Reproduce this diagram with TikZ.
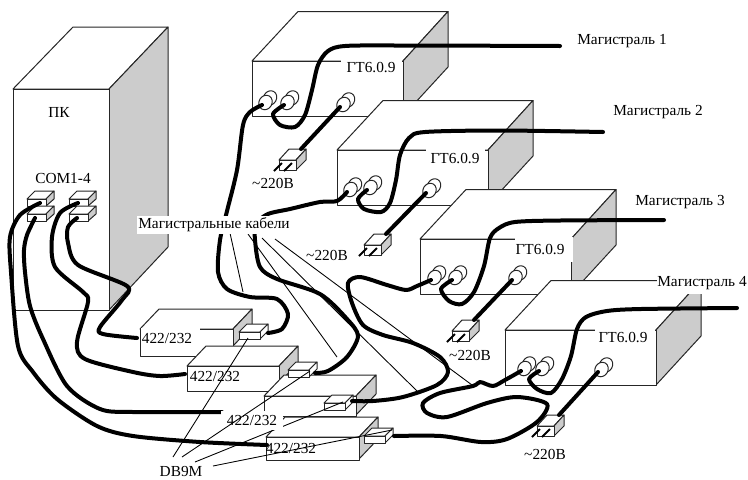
\documentclass[tikz,border=0pt]{standalone}
\usepackage{fontspec}
\setmainfont{Liberation Serif}
\definecolor{sideGrey}{RGB}{204, 204, 204}
\usetikzlibrary{calc}

\tikzset{
    wall/.style={draw=black!85, line width=0.75pt, line join=round},
    cable/.style={draw=black, line width=3pt, line cap=round, line join=round},
    leader/.style={draw=black, line width=0.65pt},
    lab/.style={font=\fontsize{11.5}{13}\selectfont, inner sep=0pt},
    labw/.style={lab, fill=white},
    jack/.pic={
        \draw[wall, fill=white, shift={(8,-7)}, rotate=-30] (0,0) ellipse [x radius=6.5, y radius=7.5];
        \draw[wall, fill=white, shift={(3.5,-2.5)}, rotate=-30] (0,0) ellipse [x radius=6.5, y radius=7.5];
    },
    plug/.pic={
        \draw[wall, fill=white] (0,0) -- (10,-11) -- (27,-11) -- (17,0) -- cycle;
        \draw[wall, fill=sideGrey] (17,0) -- (27,-11) -- (27,0) -- (17,10) -- cycle;
        \draw[wall, fill=white] (0,0) rectangle (17,10);
        \draw[line width=1.5pt] (3,3) -- (-5,11);
        \draw[line width=1.5pt] (13,3) -- (5,11);
        \coordinate (-top) at (22,-11);
    },
    port/.pic={
        \draw[wall, fill=white] (0,0) -- (8,-8) -- (29,-8) -- (21,0) -- cycle;
        \draw[wall, fill=white] (21,0) -- (29,-8) -- (29,-1) -- (21,7) -- cycle;
        \draw[wall, fill=white] (0,0) rectangle (21,7);
    },
    comport/.pic={
        \draw[wall, fill=white] (0,0) -- (8,-8) -- (27,-8) -- (19,0) -- cycle;
        \draw[wall, fill=sideGrey] (19,0) -- (27,-8) -- (27,0) -- (19,7) -- cycle;
        \draw[wall, fill=white] (0,0) rectangle (19,7);
    }
}

\begin{document}
\begin{tikzpicture}[x=0.75pt, y=-0.75pt]
    \useasboundingbox (0,0) rectangle (748,479);

    % PC case
    \draw[wall, fill=white] (13,89) -- (73,27) -- (168,27) -- (109,89) -- cycle;
    \draw[wall, fill=sideGrey] (109,89) -- (168,27) -- (168,247) -- (109,310) -- cycle;
    \draw[wall, fill=white] (13,89) rectangle (109,310);
    \node[lab] (pk) at (59,112) {ПК};
    \node[lab] (com) at (63,178) {COM1-4};
    \foreach \n/\px/\py in {a/27/199, b/27/214, c/69/199, d/69/214} {
        \pic (com\n) at (\px,\py) {comport};
    }

    % GT6.0.9 boxes, the text hides a part of the front edge
    \foreach \n/\bx/\by/\cxa/\cya/\cxb/\cyb/\lx/\ly in {1/252/61/341/59/402/82/371/68,
                                                        2/337/150/426/148/485/171/455/159,
                                                        3/420/239/515/237/573/262/540/250,
                                                        4/505/330/595/328/655/350/623/338} {
        \draw[wall, fill=white] (\bx,\by) -- ({\bx+46},{\by-49.5}) -- ({\bx+196},{\by-49.5}) -- ({\bx+151},\by) -- cycle;
        \draw[wall, fill=sideGrey] ({\bx+151},\by) -- ({\bx+196},{\by-49.5}) -- ({\bx+196},{\by+6}) -- ({\bx+151},{\by+55}) -- cycle;
        \draw[wall, fill=white] (\bx,\by) rectangle ({\bx+151},{\by+55});
        \fill[white] (\cxa,\cya) rectangle (\cxb,\cyb);
        \node[lab] (gt\n) at (\lx,\ly) {ГТ6.0.9};
    }
    \node[labw, minimum width=68pt, minimum height=16.5pt] (mag4) at (702,283) {Магистраль 4};
    \node[lab] (mag1) at (622,41) {Магистраль 1};
    \node[lab] (mag2) at (658,112) {Магистраль 2};
    \node[lab] (mag3) at (680,202) {Магистраль 3};

    % Converters
    \foreach \n/\bx/\by/\bw/\bh/\sw/\sh in {1/140/329/93/27/19/17,
                                            2/187/366/92/25/19/17,
                                            3/264/396/92/20/20/19,
                                            4/266/437/93/23/19/22} {
        \draw[wall, fill=white] (\bx,\by) -- ({\bx+\sw},{\by-\sw-1}) -- ({\bx+\bw+\sw},{\by-\sw-1}) -- ({\bx+\bw},\by) -- cycle;
        \draw[wall, fill=sideGrey] ({\bx+\bw},\by) -- ({\bx+\bw+\sw},{\by-\sw-1}) -- ({\bx+\bw+\sw},{\by+\sh-\sw-1}) -- ({\bx+\bw},{\by+\sh}) -- cycle;
        \draw[wall, fill=white] (\bx,\by) rectangle ({\bx+\bw},{\by+\bh});
    }
    \fill[white] (141,327.5) rectangle (200,347);
    \node[lab] (conva) at (167,338) {422/232};
    \node[lab] (convb) at (215,376) {422/232};
    \node[lab] (convd) at (291,448) {422/232};

    % Sockets on the GT6.0.9 boxes
    \foreach \n/\ax/\ay/\mx/\my/\cx/\cy in {1/262/105/284/105/340/107,
                                            2/347/192/367/190/426/193,
                                            3/431/280/452/280/512/280,
                                            4/521/371/539/371/598/372} {
        \coordinate (g\n a) at (\ax,\ay);
        \coordinate (g\n b) at (\mx,\my);
        \coordinate (g\n c) at (\cx,\cy);
        \pic at (g\n a) {jack};
        \pic at (g\n b) {jack};
        \pic at (g\n c) {jack};
    }

    % Mains plugs
    \foreach \n/\px/\py/\tx/\ty in {1/279/160/273/183,
                                    2/364/245/327/255,
                                    3/452/331/470/355,
                                    4/537/426/545/454} {
        \pic (plug\n) at (\px,\py) {plug};
        \draw[cable] (g\n c) -- (plug\n-top);
        \node[lab] (mains\n) at (\tx,\ty) {\textasciitilde 220В};
    }

    % Thin leaders from the cable label
    \coordinate (kab1) at (230,233);
    \coordinate (kab2) at (248,234);
    \coordinate (kab3) at (262,238);
    \coordinate (kab4) at (275,239);
    \coordinate (kabEnd1) at (243,292);
    \coordinate (kabEnd2) at (337,357);
    \coordinate (kabEnd3) at (418,392);
    \coordinate (kabEnd4) at (472,385);
    \foreach \n in {1,2,3,4} {
        \draw[leader] (kab\n) -- (kabEnd\n);
    }

    % Trunk cables
    \coordinate (line1) at (560,46);
    \coordinate (line2) at (603,132);
    \coordinate (line3) at (664,220);
    \coordinate (line4) at (737,308);
    \draw[cable] plot[smooth] coordinates {(g1b) (273,114) (280,125) (295,127) (305,115) (312,90) (318,65) (328,51) (345,46) (400,45.5) (line1)};
    \draw[cable] plot[smooth] coordinates {(g2b) (358,199) (364,209) (381,212) (390,203) (396,180) (400,155) (409,138) (425,132) (500,130.5) (line2)};
    \draw[cable] plot[smooth] coordinates {(g3b) (441,289) (449,301) (462,304) (474,292) (484,266) (490,238) (499,228) (515,222) (560,220.5) (line3)};
    \draw[cable] plot[smooth] coordinates {(g4b) (529,379) (537,389) (551,393) (562,379) (571,356) (577,329) (586,317) (607,311) (641,309) (line4)};

    % Port blocks of the converters
    \pic (dba) at (239,332) {port};
    \pic (dbb) at (288,370) {port};
    \pic (dbc) at (324,403) {port};
    \pic (dbd) at (364,436) {port};

    % Cables to the converters
    \coordinate (dbaEnd) at (268,333);
    \coordinate (dbbEnd) at (315,373);
    \coordinate (dbcEnd) at (352,401);
    \coordinate (dbdEnd) at (394,436);
    \draw[cable] plot[smooth] coordinates {(g1a) (250,112) (243,125) (237,170) (226,215) (220,240) (218,272) (227,289) (250,297) (277,299) (288,314) (282,329) (dbaEnd)};
    \draw[cable] plot[smooth] coordinates {(g2a) (337,201) (320,202) (290,209) (268,214) (256,224) (255,240) (260,267) (277,279) (320,294) (347,319) (358,336) (347,357) (328,371) (dbbEnd)};
    \draw[cable] plot[smooth] coordinates {(g3a) (417,286) (406,290) (387,285) (360,277) (348,283) (352,303) (363,325) (383,335) (413,343) (440,357) (448,372) (437,385) (403,397) (373,401) (dbcEnd)};
    \draw[cable] plot[smooth] coordinates {(g4a) (505,380) (493,386) (480,382) (473,386) (440,393) (423,403) (427,413) (447,417) (487,403) (517,397) (547,404) (537,422) (507,439) (481,442) (441,436) (dbdEnd)};

    % Cables from the COM ports
    \coordinate (comaEnd) at (40,203);
    \coordinate (combEnd) at (35,218);
    \coordinate (comcEnd) at (78,203);
    \coordinate (comdEnd) at (77,218);
    \coordinate (convaEnd) at (137,338);
    \coordinate (convbEnd) at (185,374);
    \coordinate (convcEnd) at (222,412);
    \coordinate (convdEnd) at (267,445);
    \draw[cable] plot[smooth] coordinates {(comaEnd) (20,215) (10,237) (11,272) (18,346) (33,372) (57,399) (97,426) (133,436) (200,442) (convdEnd)};
    \draw[cable] plot[smooth] coordinates {(combEnd) (27,235) (24,250) (25,272) (30,306) (43,339) (67,386) (100,409) (133,412) (convcEnd)};
    \draw[cable] plot[smooth] coordinates {(comcEnd) (60,213) (52,237) (55,267) (83,292) (88,302) (77,342) (85,359) (133,372) (160,376) (convbEnd)};
    \draw[cable] plot[smooth] coordinates {(comdEnd) (68,227) (68,243) (78,265) (127,286) (122,300) (100,327) (103,334) (convaEnd)};

    % Labels over the cables
    \node[labw, minimum width=115pt, minimum height=13.5pt] (kabel) at (214,225) {Магистральные кабели};

    % DB9M leaders
    \node[lab] (db9) at (181,471) {DB9M};
    \coordinate (leadA) at (173,457);
    \coordinate (leadB) at (182,457);
    \coordinate (leadC) at (195,462);
    \coordinate (leadD) at (213,466);
    \coordinate (portA) at (248,338);
    \coordinate (portB) at (310,371);
    \coordinate (portC) at (343,402);
    \coordinate (portD) at (392,430);
    \draw[leader] (leadC) -- (portC);
    \node[labw, minimum width=46.5pt, minimum height=14.2pt] (convc) at (252,420.5) {422/232};
    \draw[leader] (leadA) -- (portA);
    \draw[leader] (leadB) -- (portB);
    \draw[leader] (leadD) -- (portD);
\end{tikzpicture}
\end{document}
